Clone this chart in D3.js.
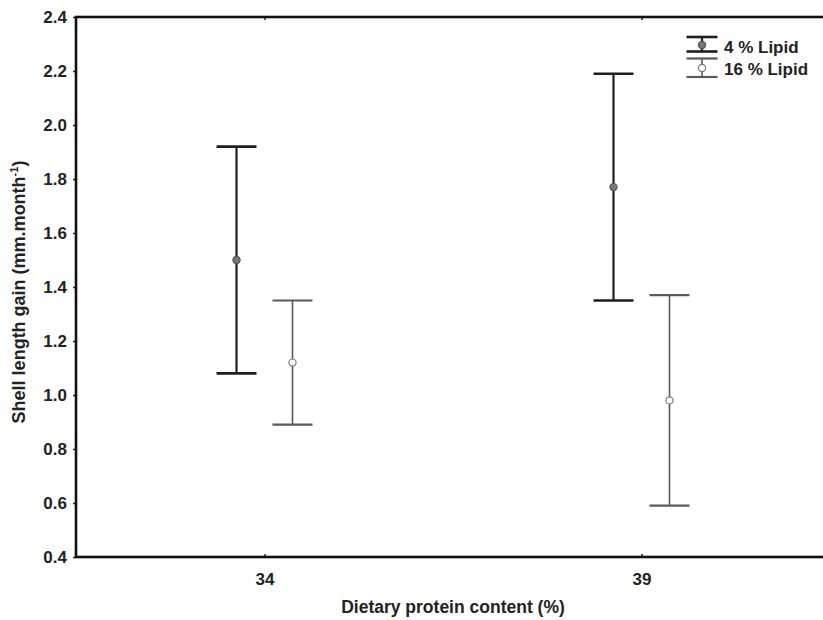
<!DOCTYPE html>
<html>
<head>
<meta charset="utf-8">
<script src="https://cdn.jsdelivr.net/npm/d3@7/dist/d3.min.js"></script>
<style>
  html, body { margin: 0; padding: 0; background: #fff; }
  svg { display: block; font-family: "Liberation Sans", Arial, sans-serif; }
</style>
</head>
<body>
<svg id="chart" width="823" height="620"></svg>
<script>
// Dietary protein levels (x categories)
const proteinLevels = ["34", "39"];
// Lipid treatments (series)
const lipidSeries = ["4 % Lipid", "16 % Lipid"];
// Mean shell length gain (mm.month^-1) per protein level
const meanLipid4 = [1.50, 1.77];
const meanLipid16 = [1.12, 0.98];
// Half-width of the error bars
const errLipid4 = [0.42, 0.42];
const errLipid16 = [0.23, 0.39];
// Y-axis ticks
const yTicks = [0.4, 0.6, 0.8, 1.0, 1.2, 1.4, 1.6, 1.8, 2.0, 2.2, 2.4];

const seriesData = [
  { name: lipidSeries[0], means: meanLipid4, errs: errLipid4, color: "#1e1e1e", lw: 2.2, capW: 2.6, fill: "#777", stroke: "#555" },
  { name: lipidSeries[1], means: meanLipid16, errs: errLipid16, color: "#5a5a5a", lw: 1.6, capW: 2.2, fill: "#fff", stroke: "#777" }
];

const svg = d3.select("#chart");
const mLeft = 76, mRight = 830, mTop = 17, mBottom = 557;

const y = d3.scaleLinear().domain([0.4, 2.4]).range([mBottom, mTop]);
const x = d3.scalePoint().domain(proteinLevels).range([mLeft, mRight]).padding(0.5);
const xOff = d3.scalePoint().domain(lipidSeries).range([-28, 28]);

const plot = svg.append("g");

// Error bars
seriesData.forEach(s => {
  const g = plot.append("g");
  proteinLevels.forEach((p, i) => {
    const cx = x(p) + xOff(s.name);
    const lo = s.means[i] - s.errs[i], hi = s.means[i] + s.errs[i];
    g.append("line").attr("x1", cx).attr("x2", cx).attr("y1", y(hi)).attr("y2", y(lo))
      .attr("stroke", s.color).attr("stroke-width", s.lw);
    [hi, lo].forEach(v => {
      g.append("line").attr("x1", cx - 20).attr("x2", cx + 20).attr("y1", y(v)).attr("y2", y(v))
        .attr("stroke", s.color).attr("stroke-width", s.capW);
    });
    g.append("circle").attr("cx", cx).attr("cy", y(s.means[i])).attr("r", 3.6)
      .attr("fill", s.fill).attr("stroke", s.stroke).attr("stroke-width", 1.2);
  });
});

// Axes
const yAxis = d3.axisLeft(y).tickValues(yTicks).tickFormat(d3.format(".1f")).tickSize(3).tickPadding(6);
const yg = svg.append("g").attr("transform", `translate(${mLeft},0)`).call(yAxis);
yg.select(".domain").remove();
yg.selectAll("text").attr("font-size", 17).attr("font-weight", "bold").attr("fill", "#222");
yg.selectAll("line").attr("stroke", "#222").attr("stroke-width", 1.5);

const xAxis = d3.axisBottom(x).tickSize(-3).tickPadding(16);
const xg = svg.append("g").attr("transform", `translate(0,${mBottom})`).call(xAxis);
xg.select(".domain").remove();
xg.selectAll("text").attr("font-size", 17).attr("font-weight", "bold").attr("fill", "#222");
xg.selectAll("line").attr("stroke", "#222").attr("stroke-width", 1.5);

const xTop = d3.axisTop(x).tickSize(-3).tickFormat("");
const xtg = svg.append("g").attr("transform", `translate(0,${mTop})`).call(xTop);
xtg.select(".domain").remove();
xtg.selectAll("line").attr("stroke", "#222").attr("stroke-width", 1.5);

// Frame
svg.append("rect").attr("x", mLeft).attr("y", mTop).attr("width", mRight - mLeft).attr("height", mBottom - mTop)
  .attr("fill", "none").attr("stroke", "#111").attr("stroke-width", 2.6);

// Axis titles
svg.append("text").attr("x", (341 + 565) / 2).attr("y", 613).attr("text-anchor", "middle")
  .attr("font-size", 17.5).attr("font-weight", "bold").attr("fill", "#222")
  .text("Dietary protein content (%)");

const yt = svg.append("text").attr("transform", "translate(25,292) rotate(-90)").attr("text-anchor", "middle")
  .attr("font-size", 18).attr("font-weight", "bold").attr("fill", "#222");
yt.append("tspan").text("Shell length gain (mm.month");
yt.append("tspan").attr("font-size", 11).attr("dy", -7).text("-1");
yt.append("tspan").attr("dy", 7).text(")");

// Legend
const legend = svg.append("g");
const legItems = [
  { s: seriesData[0], capTop: 37, capBot: 51.5, dot: 45, base: 53 },
  { s: seriesData[1], capTop: 58.5, capBot: 77, dot: 68, base: 75 }
];
const lx = 702;
legItems.forEach(it => {
  legend.append("line").attr("x1", lx).attr("x2", lx).attr("y1", it.capTop).attr("y2", it.capBot)
    .attr("stroke", it.s.color).attr("stroke-width", it.s.lw);
  [it.capTop, it.capBot].forEach(v => {
    legend.append("line").attr("x1", lx - 15.5).attr("x2", lx + 15.5).attr("y1", v).attr("y2", v)
      .attr("stroke", it.s.color).attr("stroke-width", it.s.capW);
  });
  legend.append("circle").attr("cx", lx).attr("cy", it.dot).attr("r", 3.6)
    .attr("fill", it.s.fill).attr("stroke", it.s.stroke).attr("stroke-width", 1.2);
  legend.append("text").attr("x", 724).attr("y", it.base).attr("font-size", 17).attr("font-weight", "bold")
    .attr("fill", "#222").text(it.s.name);
});
</script>
</body>
</html>
